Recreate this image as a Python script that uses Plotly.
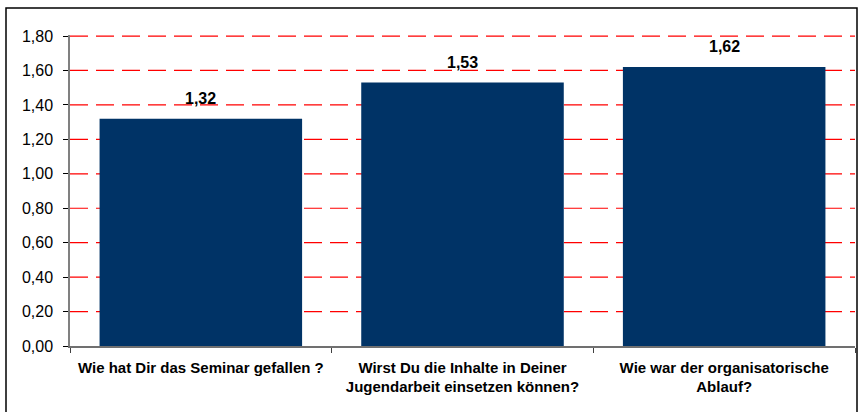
import plotly.graph_objects as go

categories = [
    "Wie hat Dir das Seminar gefallen ?",
    "Wirst Du die Inhalte in Deiner<br>Jugendarbeit einsetzen können?",
    "Wie war der organisatorische<br>Ablauf?",
]
values = [1.32, 1.53, 1.62]
value_labels = ["1,32", "1,53", "1,62"]
y_ticks = [0.0, 0.2, 0.4, 0.6, 0.8, 1.0, 1.2, 1.4, 1.6, 1.8]
y_tick_labels = ["0,00", "0,20", "0,40", "0,60", "0,80", "1,00", "1,20", "1,40", "1,60", "1,80"]

W, H = 858, 412
ML, MR, MT, MB = 70, 3, 35, 66
pw, ph = W - ML - MR, H - MT - MB

def px_x(p):
    return (p - ML) / pw

def px_y(p):
    return (H - MB - p) / ph

FONT = "Liberation Sans, Arial"

fig = go.Figure()
fig.add_trace(go.Bar(
    x=categories,
    y=values,
    marker=dict(color="#003366", line=dict(width=0)),
    hoverinfo="skip",
))

for c, v, t in zip(categories, values, value_labels):
    fig.add_annotation(
        x=c, y=v, text=t, showarrow=False,
        yanchor="bottom", yshift=10,
        font=dict(family=FONT, size=16, color="black", weight="bold"),
    )

shapes = [
    dict(type="rect", xref="paper", yref="paper",
         x0=px_x(6), x1=px_x(857), y0=px_y(415), y1=px_y(8),
         line=dict(color="black", width=1.5), fillcolor="rgba(0,0,0,0)",
         layer="below"),
]
for tv in y_ticks[1:]:
    shapes.append(dict(
        type="line", xref="paper", yref="y", x0=0, x1=1, y0=tv, y1=tv,
        line=dict(color="#FF0000", width=1.2, dash="18px,8px"),
        layer="below",
    ))

fig.update_layout(
    width=W, height=H,
    margin=dict(l=ML, r=MR, t=MT, b=MB, autoexpand=False),
    paper_bgcolor="white",
    plot_bgcolor="rgba(0,0,0,0)",
    bargap=0.226,
    showlegend=False,
    font=dict(family=FONT, color="black"),
    xaxis=dict(
        showline=True, linecolor="#707070", linewidth=1.5,
        ticks="outside", tickson="boundaries", ticklen=5, tickcolor="#404040",
        tickfont=dict(size=15, family=FONT, weight="bold"),
        ticklabelstandoff=7,
        showgrid=False, automargin=False,
    ),
    yaxis=dict(
        range=[0, 1.806],
        tickvals=y_ticks, ticktext=y_tick_labels,
        showline=True, linecolor="#808080", linewidth=1.5,
        ticks="outside", ticklen=5, tickcolor="black",
        tickfont=dict(size=16, family=FONT),
        ticklabelstandoff=7,
        showgrid=False,
        zeroline=False, automargin=False,
    ),
    shapes=shapes,
)

fig.write_html(
    "out.html",
    config={"displayModeBar": False},
    post_script="document.body.style.margin='0';document.body.style.overflow='hidden';",
)
